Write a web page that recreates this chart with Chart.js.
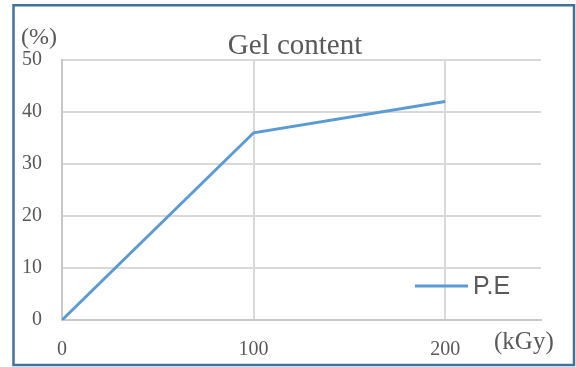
<!DOCTYPE html>
<html>
<head>
<meta charset="utf-8">
<script src="https://cdn.jsdelivr.net/npm/chart.js@4.4.1/dist/chart.umd.min.js"></script>
<style>
  html, body { margin: 0; padding: 0; background: #ffffff; }
  #wrap { width: 576px; height: 367px; }
</style>
</head>
<body>
<div id="wrap"><canvas id="c" width="576" height="367"></canvas></div>
<script>
// Dose (kGy) and gel content (%) for P.E
const doses = [0, 100, 200];
const gelContent = [0, 36, 42];
const seriesName = 'P.E';
const xTicks = [0, 100, 200];
const yTicks = [0, 10, 20, 30, 40, 50];

const TEXT = '#595959';
const SERIF = '"Liberation Serif", "Times New Roman", serif';
const SANS = '"Liberation Sans", Arial, sans-serif';

// Frame, title, unit labels and the in-plot legend
const decorations = {
  id: 'decorations',
  afterDraw(chart) {
    const ctx = chart.ctx;
    const a = chart.chartArea;
    ctx.save();
    // outer frame
    ctx.strokeStyle = '#41719c';
    ctx.lineWidth = 2.5;
    ctx.strokeRect(13.5, 5.25, 560.5, 359.75);

    ctx.fillStyle = TEXT;
    // title
    ctx.font = '29px ' + SERIF;
    ctx.textAlign = 'center';
    ctx.textBaseline = 'alphabetic';
    ctx.fillText('Gel content', 295, 54);

    // unit labels
    ctx.font = '24px ' + SERIF;
    ctx.textAlign = 'left';
    ctx.fillText('(%)', 21, 44);
    ctx.font = '25px ' + SERIF;
    ctx.fillText('(kGy)', 494, 349);

    // legend
    const lx = a.right - 126;
    const ly = a.bottom - 34;
    ctx.strokeStyle = '#5b9bd5';
    ctx.lineWidth = 3;
    ctx.beginPath();
    ctx.moveTo(lx, ly);
    ctx.lineTo(lx + 53, ly);
    ctx.stroke();
    ctx.font = '25px ' + SANS;
    ctx.textBaseline = 'middle';
    ctx.fillText(seriesName, lx + 58, ly + 1);
    ctx.restore();
  }
};

new Chart(document.getElementById('c'), {
  type: 'line',
  data: {
    datasets: [{
      label: seriesName,
      data: doses.map((d, i) => ({ x: d, y: gelContent[i] })),
      borderColor: '#5b9bd5',
      borderWidth: 3,
      pointRadius: 0,
      tension: 0,
      fill: false
    }]
  },
  options: {
    responsive: false,
    animation: false,
    layout: { padding: { left: 0, top: 60, right: 35, bottom: 0 } },
    plugins: { legend: { display: false }, title: { display: false }, tooltip: { enabled: false } },
    scales: {
      x: {
        type: 'linear',
        min: 0,
        max: 250,
        afterBuildTicks: s => { s.ticks = xTicks.map(v => ({ value: v })); },
        afterFit: s => { s.height = 47; },
        grid: { color: '#d9d9d9', lineWidth: 2, drawTicks: false },
        border: { color: '#c8c8c8', width: 2 },
        ticks: { color: TEXT, font: { family: SERIF, size: 20 }, padding: 18, maxRotation: 0 }
      },
      y: {
        min: 0,
        max: 50,
        afterBuildTicks: s => { s.ticks = yTicks.map(v => ({ value: v })); },
        afterFit: s => { s.width = 62; },
        grid: { color: '#d9d9d9', lineWidth: 2, drawTicks: false },
        border: { color: '#c8c8c8', width: 2 },
        ticks: { color: TEXT, font: { family: SERIF, size: 20 }, padding: 20 }
      }
    }
  },
  plugins: [decorations]
});
</script>
</body>
</html>
